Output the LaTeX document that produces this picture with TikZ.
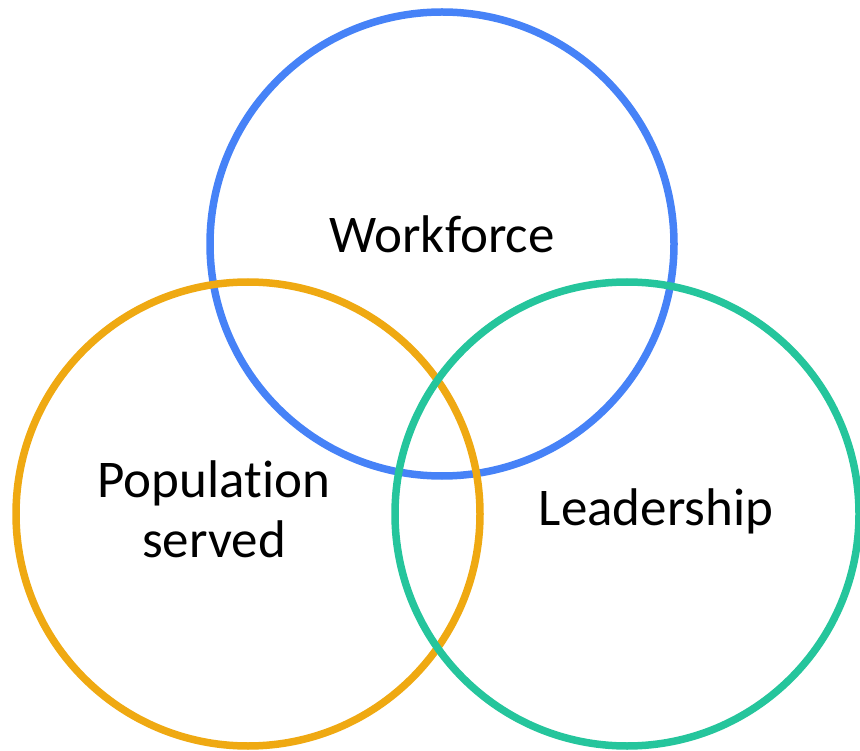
\documentclass[tikz,border=0pt]{standalone}
\usepackage{fontspec}
\setmainfont[Ligatures=NoCommon]{Carlito}
\usepackage{tikz}
\usetikzlibrary{positioning}

\definecolor{workBlue}{HTML}{4682F7}
\definecolor{popOrange}{HTML}{EFA912}
\definecolor{leadGreen}{HTML}{25C59C}

\begin{document}
\begin{tikzpicture}[x=1pt, y=-1pt]
	\tikzstyle{ring} = [circle, minimum size=464pt, inner sep=0pt, line width=7.5pt]
	\tikzstyle{label} = [font=\fontsize{53}{60}\selectfont, align=center, text=black]
	\useasboundingbox (0,0) rectangle (860,751);
	\node (workforce) [ring, draw=workBlue] at (442,244) {};
	\node (population) [ring, draw=popOrange] at (248,514) {};
	\node (leadership) [ring, draw=leadGreen] at (627,514) {};
	\node (workforceText) [label, anchor=base] at (442,253) {Workforce};
	\node (populationText) [label] at (214,509) {Population\\served};
	\node (leadershipText) [label, anchor=base] at (656,525) {Leadership};
\end{tikzpicture}
\end{document}
